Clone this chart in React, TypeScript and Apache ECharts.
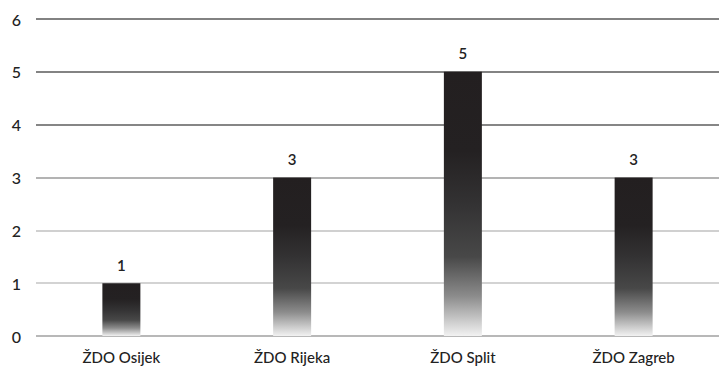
import React, { useEffect, useRef } from "react";
import * as echarts from "echarts";

const categories = ["ŽDO Osijek", "ŽDO Rijeka", "ŽDO Split", "ŽDO Zagreb"];
const values = [1, 3, 5, 3];
const yTicks = [0, 1, 2, 3, 4, 5, 6];

export default function App() {
  const ref = useRef<HTMLDivElement>(null);
  useEffect(() => {
    if (!ref.current) return;
    const chart = echarts.init(ref.current, undefined, { renderer: "svg" });
    const font = "Lato, 'Open Sans', sans-serif";
    chart.setOption({
      animation: false,
      backgroundColor: "#ffffff",
      grid: { left: 36, top: 19, width: 692, height: 317, containLabel: false },
      xAxis: {
        type: "category",
        data: categories,
        axisLine: { show: false },
        axisTick: { show: false },
        axisLabel: {
          margin: 13,
          fontFamily: font,
          fontSize: 15,
          fontWeight: 500,
          color: "#222222",
        },
      },
      yAxis: {
        type: "value",
        min: yTicks[0],
        max: yTicks[yTicks.length - 1],
        interval: 1,
        axisLine: { show: false },
        axisTick: { show: false },
        axisLabel: {
          margin: 15,
          fontFamily: font,
          fontSize: 16,
          fontWeight: 500,
          color: "#222222",
        },
        splitLine: {
          show: true,
          lineStyle: {
            width: 1.6,
            color: ["#a0a0a0", "#c4c4c4", "#c0c0c0", "#9a9a9a", "#5e5e5e", "#5a5a5a", "#585858"],
          },
        },
      },
      series: [
        {
          type: "bar",
          data: values,
          barWidth: 38,
          itemStyle: {
            color: new echarts.graphic.LinearGradient(0, 0, 0, 1, [
              { offset: 0, color: "#231f20" },
              { offset: 0.3, color: "#242122" },
              { offset: 0.5, color: "#333233" },
              { offset: 0.7, color: "#484848" },
              { offset: 0.85, color: "#8c8c8c" },
              { offset: 1, color: "#f2f2f2" },
            ]),
          },
          label: {
            show: true,
            position: "top",
            distance: 11,
            fontFamily: font,
            fontSize: 15,
            fontWeight: 600,
            color: "#222222",
          },
        },
      ],
    });
    return () => chart.dispose();
  }, []);
  return (
    <div
      ref={ref}
      style={{ position: "fixed", left: 0, top: 0, width: 719, height: 369 }}
    />
  );
}
